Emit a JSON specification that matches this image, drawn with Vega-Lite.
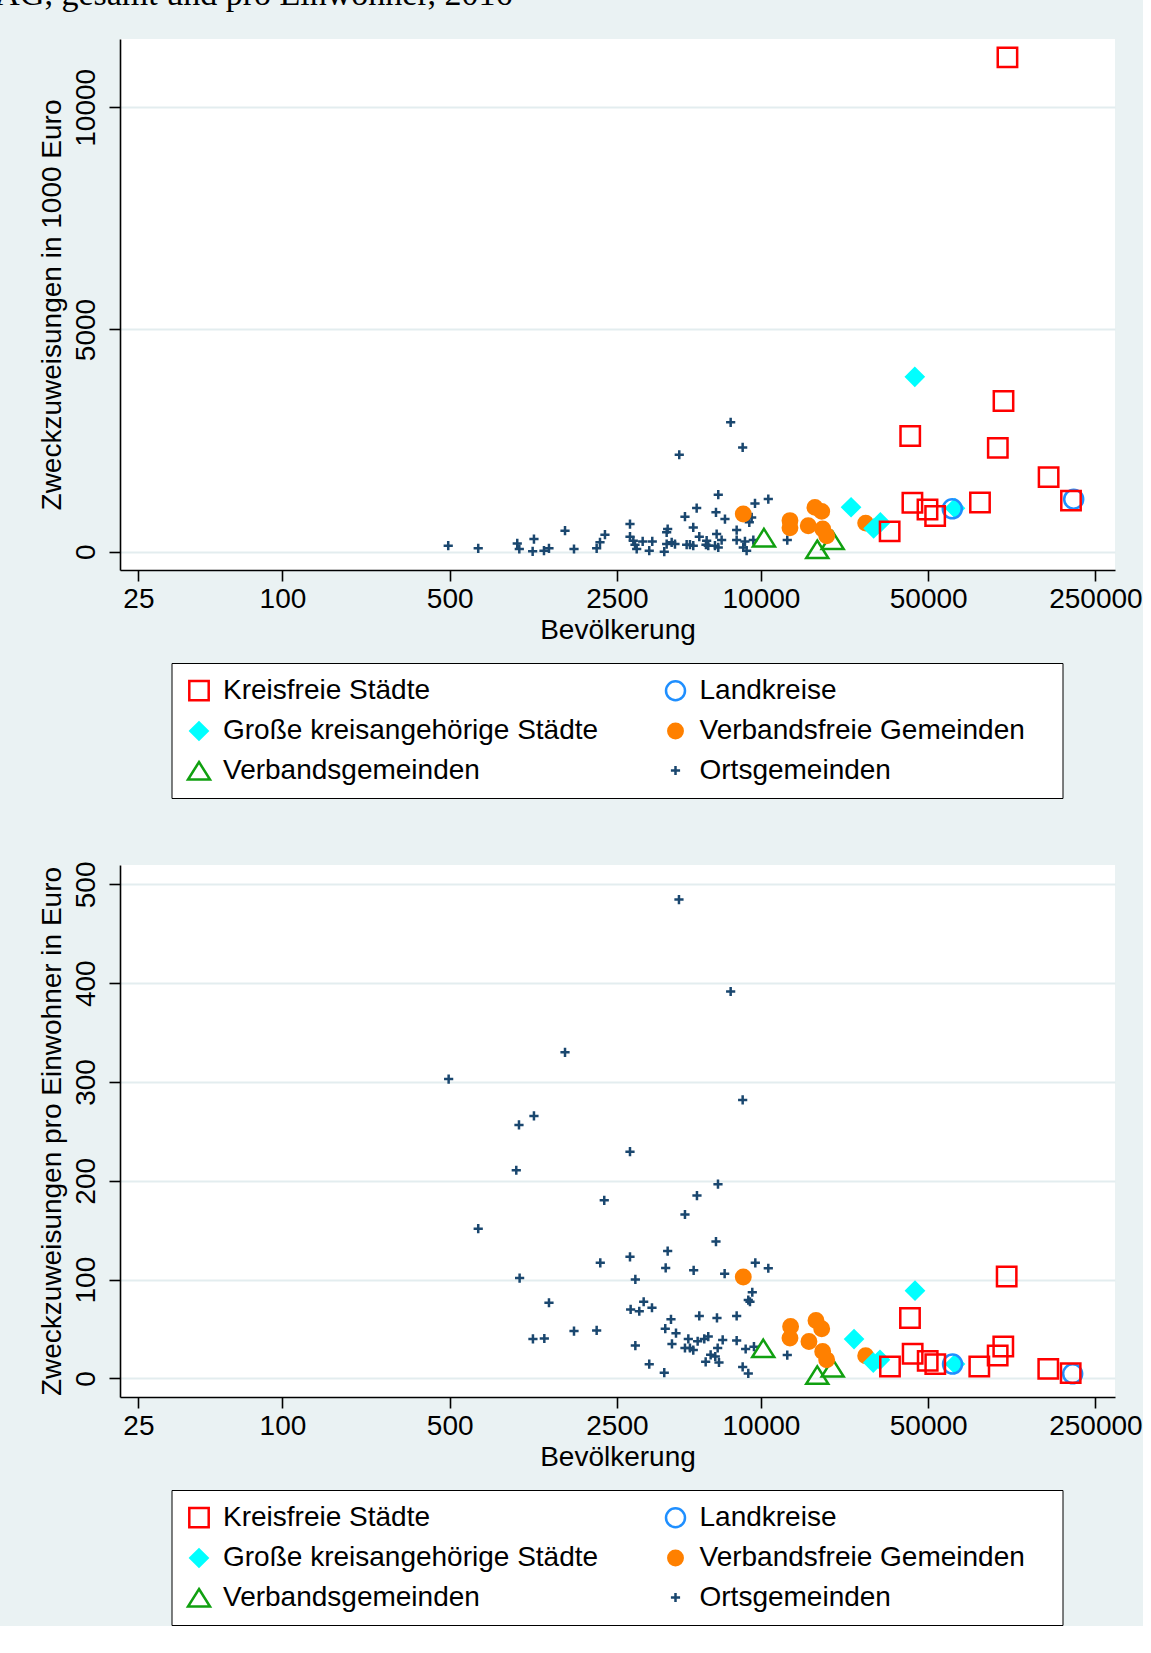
{
  "$schema": "https://vega.github.io/schema/vega-lite/v6.json",
  "background": "#EAF2F3",
  "padding": {"left": -393, "top": -22, "right": 0, "bottom": 0},
  "title": {"text": "Zweckzuweisungen nach LFAG, gesamt und pro Einwohner, 2016", "anchor": "start", "frame": "bounds", "dx": -431, "offset": 0, "baseline": "alphabetic", "font": "Liberation Serif", "fontSize": 34, "fontWeight": "normal", "color": "black"},
  "config": {
    "view": {"fill": "white", "stroke": null},
    "font": "Liberation Sans",
    "axis": {
      "labelFont": "Liberation Sans", "titleFont": "Liberation Sans",
      "labelFontSize": 28, "titleFontSize": 28, "titleFontWeight": "normal",
      "labelColor": "black", "titleColor": "black",
      "domainColor": "black", "domainWidth": 1.6,
      "tickColor": "black", "tickWidth": 1.6, "tickSize": 11,
      "gridColor": "#E3EDEF", "gridWidth": 2.2,
      "labelOverlap": false, "labelFlush": false
    },
    "legend": {
      "labelFont": "Liberation Sans", "labelFontSize": 28, "labelColor": "black", "labelLimit": 0,
      "symbolSize": 400, "symbolStrokeWidth": 2.5, "symbolOpacity": 1,
      "strokeColor": "black", "fillColor": "white",
      "padding": 13.5, "rowPadding": 11.5, "columnPadding": 61.5, "labelOffset": 10
    }
  },
  "spacing": 62,
  "resolve": {"scale": {"shape": "independent", "fill": "independent", "stroke": "independent"}},
  "datasets": {
    "gesamt": [
      {"typ": "Ortsgemeinden", "bev": 493, "wert": 135}, {"typ": "Ortsgemeinden", "bev": 658, "wert": 75},
      {"typ": "Ortsgemeinden", "bev": 958, "wert": 187}, {"typ": "Ortsgemeinden", "bev": 977, "wert": 60},
      {"typ": "Ortsgemeinden", "bev": 1125, "wert": 285}, {"typ": "Ortsgemeinden", "bev": 1111, "wert": 8},
      {"typ": "Ortsgemeinden", "bev": 1239, "wert": 22}, {"typ": "Ortsgemeinden", "bev": 1300, "wert": 75},
      {"typ": "Ortsgemeinden", "bev": 1517, "wert": 472}, {"typ": "Ortsgemeinden", "bev": 1654, "wert": 60},
      {"typ": "Ortsgemeinden", "bev": 2057, "wert": 75}, {"typ": "Ortsgemeinden", "bev": 2124, "wert": 210},
      {"typ": "Ortsgemeinden", "bev": 2228, "wert": 382}, {"typ": "Ortsgemeinden", "bev": 2835, "wert": 622},
      {"typ": "Ortsgemeinden", "bev": 2835, "wert": 337}, {"typ": "Ortsgemeinden", "bev": 2927, "wert": 247},
      {"typ": "Ortsgemeinden", "bev": 2975, "wert": 157}, {"typ": "Ortsgemeinden", "bev": 3024, "wert": 60},
      {"typ": "Ortsgemeinden", "bev": 3203, "wert": 232}, {"typ": "Ortsgemeinden", "bev": 3412, "wert": 22},
      {"typ": "Ortsgemeinden", "bev": 3513, "wert": 232}, {"typ": "Ortsgemeinden", "bev": 3943, "wert": 0},
      {"typ": "Ortsgemeinden", "bev": 4035, "wert": 435}, {"typ": "Ortsgemeinden", "bev": 4074, "wert": 510},
      {"typ": "Ortsgemeinden", "bev": 4035, "wert": 172}, {"typ": "Ortsgemeinden", "bev": 4234, "wert": 210},
      {"typ": "Ortsgemeinden", "bev": 4371, "wert": 172}, {"typ": "Ortsgemeinden", "bev": 4812, "wert": 787},
      {"typ": "Ortsgemeinden", "bev": 4891, "wert": 157}, {"typ": "Ortsgemeinden", "bev": 5049, "wert": 157},
      {"typ": "Ortsgemeinden", "bev": 5212, "wert": 135}, {"typ": "Ortsgemeinden", "bev": 5212, "wert": 547},
      {"typ": "Ortsgemeinden", "bev": 5386, "wert": 982}, {"typ": "Ortsgemeinden", "bev": 4555, "wert": 2182},
      {"typ": "Ortsgemeinden", "bev": 5523, "wert": 337}, {"typ": "Ortsgemeinden", "bev": 5890, "wert": 157},
      {"typ": "Ortsgemeinden", "bev": 5929, "wert": 247}, {"typ": "Ortsgemeinden", "bev": 6021, "wert": 135},
      {"typ": "Ortsgemeinden", "bev": 6486, "wert": 885}, {"typ": "Ortsgemeinden", "bev": 6630, "wert": 1282},
      {"typ": "Ortsgemeinden", "bev": 6527, "wert": 397}, {"typ": "Ortsgemeinden", "bev": 6422, "wert": 135},
      {"typ": "Ortsgemeinden", "bev": 6630, "wert": 97}, {"typ": "Ortsgemeinden", "bev": 6848, "wert": 262},
      {"typ": "Ortsgemeinden", "bev": 7071, "wert": 735}, {"typ": "Ortsgemeinden", "bev": 7470, "wert": 2910},
      {"typ": "Ortsgemeinden", "bev": 7914, "wert": 487}, {"typ": "Ortsgemeinden", "bev": 7914, "wert": 262},
      {"typ": "Ortsgemeinden", "bev": 8385, "wert": 2347}, {"typ": "Ortsgemeinden", "bev": 8434, "wert": 97},
      {"typ": "Ortsgemeinden", "bev": 8710, "wert": 22}, {"typ": "Ortsgemeinden", "bev": 8938, "wert": 660},
      {"typ": "Ortsgemeinden", "bev": 9143, "wert": 772}, {"typ": "Ortsgemeinden", "bev": 9441, "wert": 1087},
      {"typ": "Ortsgemeinden", "bev": 8570, "wert": 232}, {"typ": "Ortsgemeinden", "bev": 9290, "wert": 262},
      {"typ": "Ortsgemeinden", "bev": 10730, "wert": 1185}, {"typ": "Ortsgemeinden", "bev": 12880, "wert": 262},
      {"typ": "Verbandsgemeinden", "bev": 10290, "wert": 322}, {"typ": "Verbandsgemeinden", "bev": 17190, "wert": 60},
      {"typ": "Verbandsgemeinden", "bev": 19940, "wert": 262},
      {"typ": "Verbandsfreie Gemeinden", "bev": 8434, "wert": 847}, {"typ": "Verbandsfreie Gemeinden", "bev": 13220, "wert": 700},
      {"typ": "Verbandsfreie Gemeinden", "bev": 13220, "wert": 540}, {"typ": "Verbandsfreie Gemeinden", "bev": 15760, "wert": 585},
      {"typ": "Verbandsfreie Gemeinden", "bev": 16810, "wert": 997}, {"typ": "Verbandsfreie Gemeinden", "bev": 17940, "wert": 907},
      {"typ": "Verbandsfreie Gemeinden", "bev": 18110, "wert": 510}, {"typ": "Verbandsfreie Gemeinden", "bev": 18820, "wert": 360},
      {"typ": "Verbandsfreie Gemeinden", "bev": 27390, "wert": 643},
      {"typ": "Große kreisangehörige Städte", "bev": 23800, "wert": 1000}, {"typ": "Große kreisangehörige Städte", "bev": 43950, "wert": 3936},
      {"typ": "Große kreisangehörige Städte", "bev": 29580, "wert": 522}, {"typ": "Große kreisangehörige Städte", "bev": 31550, "wert": 659},
      {"typ": "Große kreisangehörige Städte", "bev": 64700, "wert": 980},
      {"typ": "Landkreise", "bev": 202800, "wert": 1181}, {"typ": "Landkreise", "bev": 63040, "wert": 964},
      {"typ": "Kreisfreie Städte", "bev": 107200, "wert": 11124}, {"typ": "Kreisfreie Städte", "bev": 103200, "wert": 3390},
      {"typ": "Kreisfreie Städte", "bev": 42050, "wert": 2602}, {"typ": "Kreisfreie Städte", "bev": 97700, "wert": 2337},
      {"typ": "Kreisfreie Städte", "bev": 159300, "wert": 1679}, {"typ": "Kreisfreie Städte", "bev": 197600, "wert": 1149},
      {"typ": "Kreisfreie Städte", "bev": 42950, "wert": 1100}, {"typ": "Kreisfreie Städte", "bev": 49660, "wert": 948},
      {"typ": "Kreisfreie Städte", "bev": 53460, "wert": 803}, {"typ": "Kreisfreie Städte", "bev": 82300, "wert": 1108},
      {"typ": "Kreisfreie Städte", "bev": 34500, "wert": 458}
    ],
    "proKopf": [
      {"typ": "Ortsgemeinden", "bev": 4542, "wert": 484.6}, {"typ": "Ortsgemeinden", "bev": 7470, "wert": 391.6},
      {"typ": "Ortsgemeinden", "bev": 1517, "wert": 330}, {"typ": "Ortsgemeinden", "bev": 495, "wert": 303},
      {"typ": "Ortsgemeinden", "bev": 8385, "wert": 281.8}, {"typ": "Ortsgemeinden", "bev": 1125, "wert": 265.7},
      {"typ": "Ortsgemeinden", "bev": 974, "wert": 256.5}, {"typ": "Ortsgemeinden", "bev": 2835, "wert": 229.5},
      {"typ": "Ortsgemeinden", "bev": 949, "wert": 210.7}, {"typ": "Ortsgemeinden", "bev": 6612, "wert": 196.6},
      {"typ": "Ortsgemeinden", "bev": 5401, "wert": 185}, {"typ": "Ortsgemeinden", "bev": 2213, "wert": 180.2},
      {"typ": "Ortsgemeinden", "bev": 4812, "wert": 165.9}, {"typ": "Ortsgemeinden", "bev": 658, "wert": 151.5},
      {"typ": "Ortsgemeinden", "bev": 6486, "wert": 138.5}, {"typ": "Ortsgemeinden", "bev": 4074, "wert": 128.9},
      {"typ": "Ortsgemeinden", "bev": 2130, "wert": 117}, {"typ": "Ortsgemeinden", "bev": 2835, "wert": 123.1},
      {"typ": "Ortsgemeinden", "bev": 3997, "wert": 111.8}, {"typ": "Ortsgemeinden", "bev": 5232, "wert": 109.4},
      {"typ": "Ortsgemeinden", "bev": 7050, "wert": 106}, {"typ": "Ortsgemeinden", "bev": 9470, "wert": 117},
      {"typ": "Ortsgemeinden", "bev": 10730, "wert": 111.5}, {"typ": "Ortsgemeinden", "bev": 980, "wert": 101.6},
      {"typ": "Ortsgemeinden", "bev": 2985, "wert": 100.2}, {"typ": "Ortsgemeinden", "bev": 9198, "wert": 87.2},
      {"typ": "Ortsgemeinden", "bev": 8851, "wert": 79.3}, {"typ": "Ortsgemeinden", "bev": 8995, "wert": 77.6},
      {"typ": "Ortsgemeinden", "bev": 1300, "wert": 76.6}, {"typ": "Ortsgemeinden", "bev": 3234, "wert": 77.6},
      {"typ": "Ortsgemeinden", "bev": 2853, "wert": 69.8}, {"typ": "Ortsgemeinden", "bev": 3100, "wert": 68},
      {"typ": "Ortsgemeinden", "bev": 3503, "wert": 71.5}, {"typ": "Ortsgemeinden", "bev": 4206, "wert": 59.8},
      {"typ": "Ortsgemeinden", "bev": 5523, "wert": 63.3}, {"typ": "Ortsgemeinden", "bev": 6548, "wert": 61.2},
      {"typ": "Ortsgemeinden", "bev": 7914, "wert": 63.3}, {"typ": "Ortsgemeinden", "bev": 1114, "wert": 40},
      {"typ": "Ortsgemeinden", "bev": 1243, "wert": 40.4}, {"typ": "Ortsgemeinden", "bev": 1654, "wert": 47.9},
      {"typ": "Ortsgemeinden", "bev": 2057, "wert": 48.6}, {"typ": "Ortsgemeinden", "bev": 3981, "wert": 50.3},
      {"typ": "Ortsgemeinden", "bev": 4414, "wert": 45.8}, {"typ": "Ortsgemeinden", "bev": 4970, "wert": 40},
      {"typ": "Ortsgemeinden", "bev": 5437, "wert": 37.6}, {"typ": "Ortsgemeinden", "bev": 5795, "wert": 40},
      {"typ": "Ortsgemeinden", "bev": 6021, "wert": 42.4}, {"typ": "Ortsgemeinden", "bev": 6918, "wert": 39},
      {"typ": "Ortsgemeinden", "bev": 7914, "wert": 38.3}, {"typ": "Ortsgemeinden", "bev": 4246, "wert": 34.9},
      {"typ": "Ortsgemeinden", "bev": 4812, "wert": 30.8}, {"typ": "Ortsgemeinden", "bev": 5049, "wert": 30.8},
      {"typ": "Ortsgemeinden", "bev": 5212, "wert": 28.7}, {"typ": "Ortsgemeinden", "bev": 6592, "wert": 30.8},
      {"typ": "Ortsgemeinden", "bev": 6161, "wert": 23.9}, {"typ": "Ortsgemeinden", "bev": 6442, "wert": 22.2},
      {"typ": "Ortsgemeinden", "bev": 5873, "wert": 16.8}, {"typ": "Ortsgemeinden", "bev": 6676, "wert": 16.1},
      {"typ": "Ortsgemeinden", "bev": 2985, "wert": 33.2}, {"typ": "Ortsgemeinden", "bev": 8630, "wert": 29.8},
      {"typ": "Ortsgemeinden", "bev": 9348, "wert": 32.1}, {"typ": "Ortsgemeinden", "bev": 12880, "wert": 23.6},
      {"typ": "Ortsgemeinden", "bev": 3412, "wert": 14.4}, {"typ": "Ortsgemeinden", "bev": 3943, "wert": 5.8},
      {"typ": "Ortsgemeinden", "bev": 8385, "wert": 11.6}, {"typ": "Ortsgemeinden", "bev": 8851, "wert": 5.1},
      {"typ": "Verbandsgemeinden", "bev": 10220, "wert": 30.7}, {"typ": "Verbandsgemeinden", "bev": 17190, "wert": 3.6},
      {"typ": "Verbandsgemeinden", "bev": 19940, "wert": 11},
      {"typ": "Verbandsfreie Gemeinden", "bev": 8434, "wert": 102.6}, {"typ": "Verbandsfreie Gemeinden", "bev": 13300, "wert": 52.6},
      {"typ": "Verbandsfreie Gemeinden", "bev": 13220, "wert": 40.8}, {"typ": "Verbandsfreie Gemeinden", "bev": 16980, "wert": 58.7},
      {"typ": "Verbandsfreie Gemeinden", "bev": 17940, "wert": 50.3}, {"typ": "Verbandsfreie Gemeinden", "bev": 15870, "wert": 37.4},
      {"typ": "Verbandsfreie Gemeinden", "bev": 18110, "wert": 27.3}, {"typ": "Verbandsfreie Gemeinden", "bev": 18820, "wert": 18.8},
      {"typ": "Verbandsfreie Gemeinden", "bev": 27390, "wert": 22.9},
      {"typ": "Große kreisangehörige Städte", "bev": 44040, "wert": 88.8}, {"typ": "Große kreisangehörige Städte", "bev": 24490, "wert": 39.8},
      {"typ": "Große kreisangehörige Städte", "bev": 29470, "wert": 16.1}, {"typ": "Große kreisangehörige Städte", "bev": 31430, "wert": 18.8},
      {"typ": "Große kreisangehörige Städte", "bev": 64700, "wert": 14.5},
      {"typ": "Landkreise", "bev": 63200, "wert": 14.5}, {"typ": "Landkreise", "bev": 200800, "wert": 4.7},
      {"typ": "Kreisfreie Städte", "bev": 106400, "wert": 103.2}, {"typ": "Kreisfreie Städte", "bev": 41960, "wert": 61.1},
      {"typ": "Kreisfreie Städte", "bev": 43050, "wert": 24.9}, {"typ": "Kreisfreie Städte", "bev": 49760, "wert": 17.8},
      {"typ": "Kreisfreie Städte", "bev": 53530, "wert": 14.5}, {"typ": "Kreisfreie Städte", "bev": 34610, "wert": 12.1},
      {"typ": "Kreisfreie Städte", "bev": 81760, "wert": 12.1}, {"typ": "Kreisfreie Städte", "bev": 97570, "wert": 23.2},
      {"typ": "Kreisfreie Städte", "bev": 103000, "wert": 32.3}, {"typ": "Kreisfreie Städte", "bev": 158800, "wert": 9.7},
      {"typ": "Kreisfreie Städte", "bev": 197000, "wert": 5.4}
    ]
  },
  "vconcat": [
    {
      "width": 995, "height": 531,
      "data": {"name": "gesamt"},
      "mark": {"type": "point", "size": 400, "strokeWidth": 2.5, "opacity": 1, "filled": false},
      "encoding": {
        "x": {"field": "bev", "type": "quantitative", "title": "Bevölkerung",
          "scale": {"type": "log", "domain": [20.94, 301800], "nice": false},
          "axis": {"values": [25, 100, 500, 2500, 10000, 50000, 250000], "format": "d", "grid": false, "labelPadding": 4, "titlePadding": 3}},
        "y": {"field": "wert", "type": "quantitative", "title": "Zweckzuweisungen in 1000 Euro",
          "scale": {"domain": [-412, 11537], "nice": false, "zero": false},
          "axis": {"values": [0, 5000, 10000], "format": "d", "labelAngle": -90, "labelAlign": "center", "labelBaseline": "bottom", "labelPadding": 9, "titlePadding": 6, "grid": true}},
        "shape": {"field": "typ", "type": "nominal",
          "scale": {"domain": ["Kreisfreie Städte", "Große kreisangehörige Städte", "Verbandsgemeinden", "Landkreise", "Verbandsfreie Gemeinden", "Ortsgemeinden"],
            "range": ["M-0.97,-0.97H0.97V0.97H-0.97Z", "M-0.86,0L0,-0.86L0.86,0L0,0.86Z", "M0,-0.85L1.1,0.9L-1.1,0.9Z", "M0.95,0A0.95,0.95,0,1,1,-0.95,0A0.95,0.95,0,1,1,0.95,0Z", "M0.72,0A0.72,0.72,0,1,1,-0.72,0A0.72,0.72,0,1,1,0.72,0Z", "M-0.46,0H0.46M0,-0.46V0.46"]},
          "legend": {"title": null, "orient": "none", "legendX": 51.5, "legendY": 624, "columns": 2, "labelExpr": "datum.value == 'Verbandsfreie Gemeinden' ? 'Verbandsfreie Gemeinden\u00a0\u00a0\u00a0\u200b' : datum.label"}},
        "fill": {"field": "typ", "type": "nominal",
          "scale": {"domain": ["Kreisfreie Städte", "Große kreisangehörige Städte", "Verbandsgemeinden", "Landkreise", "Verbandsfreie Gemeinden", "Ortsgemeinden"],
            "range": ["transparent", "#00FFFF", "transparent", "transparent", "#FF8000", "transparent"]},
          "legend": {"title": null, "orient": "none", "legendX": 51.5, "legendY": 624, "columns": 2, "labelExpr": "datum.value == 'Verbandsfreie Gemeinden' ? 'Verbandsfreie Gemeinden\u00a0\u00a0\u00a0\u200b' : datum.label"}},
        "stroke": {"field": "typ", "type": "nominal",
          "scale": {"domain": ["Kreisfreie Städte", "Große kreisangehörige Städte", "Verbandsgemeinden", "Landkreise", "Verbandsfreie Gemeinden", "Ortsgemeinden"],
            "range": ["#FF0000", "#00FFFF", "#10A010", "#1F8FFF", "#FF8000", "#1A476F"]},
          "legend": {"title": null, "orient": "none", "legendX": 51.5, "legendY": 624, "columns": 2, "labelExpr": "datum.value == 'Verbandsfreie Gemeinden' ? 'Verbandsfreie Gemeinden\u00a0\u00a0\u00a0\u200b' : datum.label"}}
      }
    },
    {
      "width": 995, "height": 532,
      "data": {"name": "proKopf"},
      "mark": {"type": "point", "size": 400, "strokeWidth": 2.5, "opacity": 1, "filled": false},
      "encoding": {
        "x": {"field": "bev", "type": "quantitative", "title": "Bevölkerung",
          "scale": {"type": "log", "domain": [20.94, 301800], "nice": false},
          "axis": {"values": [25, 100, 500, 2500, 10000, 50000, 250000], "format": "d", "grid": false, "labelPadding": 4, "titlePadding": 3}},
        "y": {"field": "wert", "type": "quantitative", "title": "Zweckzuweisungen pro Einwohner in Euro",
          "scale": {"domain": [-18.8, 519.6], "nice": false, "zero": false},
          "axis": {"values": [0, 100, 200, 300, 400, 500], "format": "d", "labelAngle": -90, "labelAlign": "center", "labelBaseline": "bottom", "labelPadding": 9, "titlePadding": 6, "grid": true}},
        "shape": {"field": "typ", "type": "nominal",
          "scale": {"domain": ["Kreisfreie Städte", "Große kreisangehörige Städte", "Verbandsgemeinden", "Landkreise", "Verbandsfreie Gemeinden", "Ortsgemeinden"],
            "range": ["M-0.97,-0.97H0.97V0.97H-0.97Z", "M-0.86,0L0,-0.86L0.86,0L0,0.86Z", "M0,-0.85L1.1,0.9L-1.1,0.9Z", "M0.95,0A0.95,0.95,0,1,1,-0.95,0A0.95,0.95,0,1,1,0.95,0Z", "M0.72,0A0.72,0.72,0,1,1,-0.72,0A0.72,0.72,0,1,1,0.72,0Z", "M-0.46,0H0.46M0,-0.46V0.46"]},
          "legend": {"title": null, "orient": "none", "legendX": 51.5, "legendY": 625, "columns": 2, "labelExpr": "datum.value == 'Verbandsfreie Gemeinden' ? 'Verbandsfreie Gemeinden\u00a0\u00a0\u00a0\u200b' : datum.label"}},
        "fill": {"field": "typ", "type": "nominal",
          "scale": {"domain": ["Kreisfreie Städte", "Große kreisangehörige Städte", "Verbandsgemeinden", "Landkreise", "Verbandsfreie Gemeinden", "Ortsgemeinden"],
            "range": ["transparent", "#00FFFF", "transparent", "transparent", "#FF8000", "transparent"]},
          "legend": {"title": null, "orient": "none", "legendX": 51.5, "legendY": 625, "columns": 2, "labelExpr": "datum.value == 'Verbandsfreie Gemeinden' ? 'Verbandsfreie Gemeinden\u00a0\u00a0\u00a0\u200b' : datum.label"}},
        "stroke": {"field": "typ", "type": "nominal",
          "scale": {"domain": ["Kreisfreie Städte", "Große kreisangehörige Städte", "Verbandsgemeinden", "Landkreise", "Verbandsfreie Gemeinden", "Ortsgemeinden"],
            "range": ["#FF0000", "#00FFFF", "#10A010", "#1F8FFF", "#FF8000", "#1A476F"]},
          "legend": {"title": null, "orient": "none", "legendX": 51.5, "legendY": 625, "columns": 2, "labelExpr": "datum.value == 'Verbandsfreie Gemeinden' ? 'Verbandsfreie Gemeinden\u00a0\u00a0\u00a0\u200b' : datum.label"}}
      }
    }
  ]
}
